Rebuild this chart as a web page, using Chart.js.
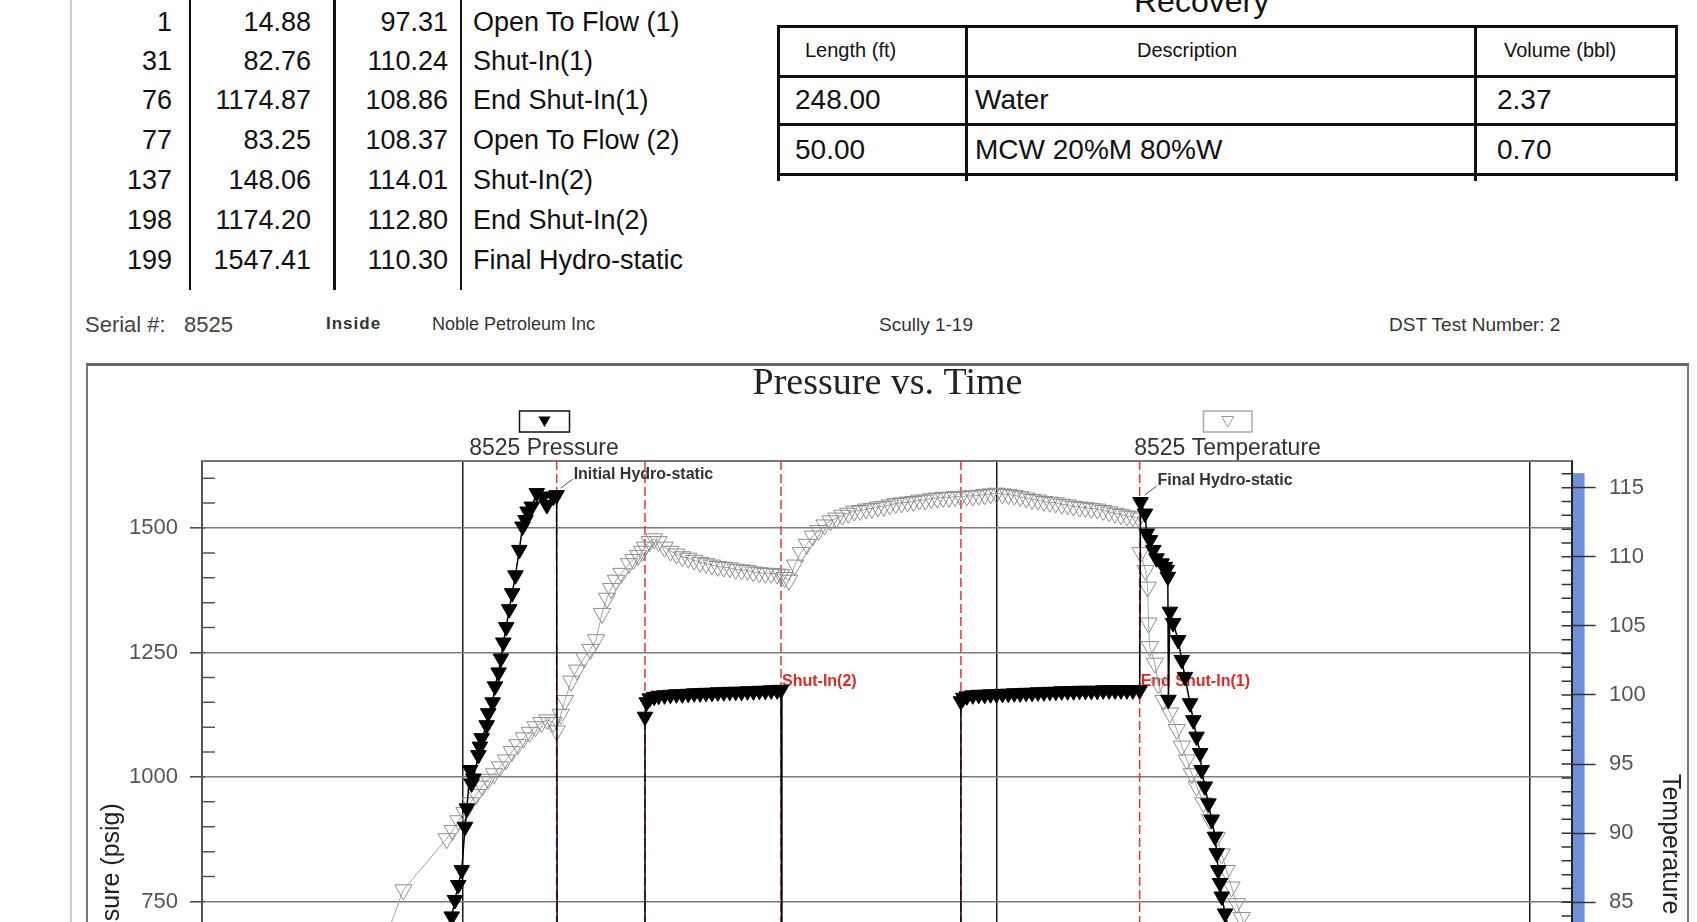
<!DOCTYPE html>
<html><head><meta charset="utf-8">
<script src="https://cdn.jsdelivr.net/npm/chart.js@4.4.1/dist/chart.umd.min.js"></script>
<style>
html,body{margin:0;padding:0;width:1697px;height:922px;overflow:hidden;background:#fff;}
body{position:relative;font-family:"Liberation Sans",Arial,sans-serif;color:#111;}
.t{position:absolute;white-space:nowrap;}
.ln{position:absolute;background:#111;}
</style></head><body>
<div style="position:absolute;left:70px;top:0;width:2px;height:922px;background:#c9c9df;"></div>
<div id="frame" style="position:absolute;left:86px;top:363px;width:1599px;height:700px;border:2px solid #777;border-top:3px solid #666;border-bottom:none;"></div>
<div id="wrap" style="position:absolute;left:88px;top:340px;width:1599px;height:1015px;"><canvas id="c"></canvas></div>
<script>
// ---------- summary table ----------
const tableTimes = ['1','31','76','77','137','198','199'];
const tablePressures = ['14.88','82.76','1174.87','83.25','148.06','1174.20','1547.41'];
const tableTemps = ['97.31','110.24','108.86','108.37','114.01','112.80','110.30'];
const tableEvents = ['Open To Flow (1)','Shut-In(1)','End Shut-In(1)','Open To Flow (2)','Shut-In(2)','End Shut-In(2)','Final Hydro-static'];

// ---------- recovery table ----------
const recoveryHeaders = ['Length  (ft)','Description','Volume (bbl)'];
const recoveryLengths = ['248.00','50.00'];
const recoveryDescriptions = ['Water','MCW 20%M 80%W'];
const recoveryVolumes = ['2.37','0.70'];

// ---------- chart data (time in minutes) ----------
const pressureTimes = [
  -37,-35.2,-33.8,-32.7,-31.6,-30.4,-29.3,-28.7,-27.6,-27.1,-26.5,-24.8,-24.3,-23.7,-22.0,-21.5,-20.0,-19.2,-18.0,-17.2,-16.4,-15.4,-14.4,-13.4,-12.3,-11.0,-9.9,-8.9,-8.2,-6.8,-5.1,-2.9,-1.7,0.5,1.6,
  1.9,10,20,31.2,
  31.4,32,33,34.5,36,38,40,42,44,46,48,50,52,54,56,58,60,62,64,66,68,70,72,74,76,77.3,
  77.6,95,115,137.7,
  138,138.8,140,142,144,146,148,150,152,154,156,158,160,162,164,166,168,170,172,174,176,178,180,182,184,186,188,190,192,194,196,198.3,
  198.6,200.1,200.7,201.8,202.9,204.0,205.7,206.8,207.4,207.8,208.0,208.5,209.6,211.3,212.5,213.6,215.3,216.4,217.5,218.7,219.2,220.3,221.5,222.6,223.7,224.3,224.8,225.4,226.0,227.1,228.5,230
];
const pressureValues = [
  620,680,720,753,783,813,900,937,1014,987,997,1044,1061,1078,1104,1128,1150,1182,1210,1238,1270,1301,1337,1369,1405,1456,1503,1516,1533,1543,1570,1563,1546,1563,1566,
  14.9,35,58,82.8,
  1121,1150,1158,1161,1163,1164,1165,1166,1166,1167,1168,1168,1169,1169,1170,1170,1171,1171,1171,1172,1172,1173,1173,1174,1174,1175,
  83.3,105,128,148.1,
  1152,1159,1162,1164,1165,1165,1166,1166,1167,1167,1168,1168,1169,1169,1170,1170,1171,1171,1172,1172,1172,1173,1173,1173,1173,1174,1174,1174,1174,1174,1174,1174.2,
  1552,1529,1489,1476,1456,1439,1429,1422,1416,1402,1155,1332,1309,1275,1235,1201,1148,1114,1081,1048,1014,981,947,914,880,847,813,787,760,726,690,650
];
const temperatureTimes = [
  -60,-50.1,-35.5,-33.5,-31.5,-29.5,-27.5,-25.5,-23.5,-21.5,-19.5,-17.5,-15.5,-13.5,-11.5,-9.5,-7.5,-5.5,-3.5,-1.5,0.5,1.6,
  3.0,4.4,6.5,8.5,10.9,13,14.9,16.9,18.6,20,21.6,23.5,26,27.5,29.1,30.5,
  31.4,33,34.5,36,38,40,42,44,46,48,50,52,54,56,58,60,62,64,66,68,70,72,74,76,77.3,
  78.5,80,82,84,86,88,90,92,94,96,98,100,102,104,106,108,110,112,114,116,118,120,122,124,126,128,130,132,134,136,
  138,140,142,144,146,148,150,152,154,156,158,160,162,164,166,168,170,172,174,176,178,180,182,184,186,188,190,192,194,196,198,
  198.6,200.3,201.0,201.3,201.7,203.4,204.6,206.3,208.5,210.8,212.5,214.2,215.9,217.5,219.8,222,224.3,226,227.6,229.3,231,232.7,235
];
const temperatureValues = [
  80.1,85.9,89.6,90.2,90.9,91.5,92.2,92.8,93.4,93.9,94.3,94.8,95.3,95.9,96.4,96.9,97.3,97.7,98.0,98.2,98.0,97.4,
  98.6,99.6,101.0,101.8,102.7,103.3,104.0,105.9,107.0,107.7,108.3,108.8,109.5,109.8,110.1,110.4,
  110.7,111.1,111.3,111.1,110.7,110.4,110.2,110.0,109.9,109.75,109.6,109.5,109.4,109.3,109.25,109.2,109.1,109.05,109.0,108.9,108.85,108.8,108.8,108.75,108.7,
  108.5,108.3,109.4,110.3,110.9,111.5,111.9,112.3,112.6,112.8,113.0,113.15,113.3,113.35,113.45,113.5,113.6,113.65,113.75,113.85,113.9,113.95,114.0,114.1,114.1,114.2,114.25,114.3,114.3,114.35,
  114.35,114.4,114.4,114.45,114.5,114.55,114.6,114.55,114.5,114.45,114.35,114.25,114.15,114.1,114.0,113.95,113.9,113.8,113.75,113.65,113.6,113.55,113.5,113.45,113.35,113.25,113.15,113.05,112.95,112.9,112.8,
  110.3,109.0,107.8,105.2,103.5,102.3,100.8,99.6,98.7,97.5,96.3,95.3,94.3,93.4,92.2,91.0,89.7,88.5,87.3,86.1,84.9,83.9,82.3
];
const pressureTicks = [0,250,500,750,1000,1250,1500];
const temperatureTicks = [60,65,70,75,80,85,90,95,100,105,110,115];
const timeGridTicks = [-30,150,330];
const eventTimes = [1.6,31.4,77.3,138,198.3];
const eventLabels = ['','','Shut-In(2)','','End Shut-In(1)'];
const eventLabelPressure = 1191;
const annotationTimes = [1.6,198.6];
const annotationPressures = [1566,1552];
const annotationTexts = ['Initial Hydro-static','Final Hydro-static'];
const temperatureBarTop = 116.05;

// ---------- HTML text ----------
function addText(txt, opt){
  const d = document.createElement('div');
  d.className = 't';
  d.textContent = txt;
  const lh = opt.lh || Math.round(opt.size*1.2);
  d.style.fontSize = opt.size + 'px';
  d.style.lineHeight = lh + 'px';
  d.style.top = (opt.cy - lh/2) + 'px';
  if (opt.right !== undefined) d.style.right = (1697 - opt.right) + 'px';
  else d.style.left = opt.left + 'px';
  if (opt.weight) d.style.fontWeight = opt.weight;
  if (opt.color) d.style.color = opt.color;
  if (opt.ls) d.style.letterSpacing = opt.ls;
  if (opt.family) d.style.fontFamily = opt.family;
  document.body.appendChild(d);
  return d;
}
function addLine(x, y, w, h){
  const d = document.createElement('div');
  d.className = 'ln';
  d.style.left = x + 'px'; d.style.top = y + 'px';
  d.style.width = w + 'px'; d.style.height = h + 'px';
  document.body.appendChild(d);
}
const rowCenters = [21.5, 61, 100, 140, 180, 220, 260];
tableTimes.forEach((v,i)=>{
  addText(v, {right:172, cy:rowCenters[i], size:27, lh:32});
  addText(tablePressures[i], {right:311, cy:rowCenters[i], size:27, lh:32});
  addText(tableTemps[i], {right:448, cy:rowCenters[i], size:27, lh:32});
  addText(tableEvents[i], {left:473, cy:rowCenters[i], size:27, lh:32});
});
addLine(188.5, 0, 2.5, 290);
addLine(333, 0, 2.5, 290);
addLine(459.5, 0, 2.5, 290);

// recovery
addText('Recovery', {left:1134, cy:1, size:32, lh:38});
[26, 76, 124, 174].forEach(y=>addLine(777, y-1.5, 901, 3));
[778, 966, 1475.5, 1676.5].forEach(x=>addLine(x-1.5, 25, 3, 156));
addText(recoveryHeaders[0], {left:805, cy:50, size:20});
addText(recoveryHeaders[1], {left:1137, cy:50, size:20});
addText(recoveryHeaders[2], {left:1504, cy:50, size:20});
const recRows = [100, 150];
recoveryLengths.forEach((v,i)=>{
  addText(v, {left:795, cy:recRows[i], size:28, lh:32});
  addText(recoveryDescriptions[i], {left:975, cy:recRows[i], size:28, lh:32});
  addText(recoveryVolumes[i], {left:1497, cy:recRows[i], size:28, lh:32});
});

// header info line
addText('Serial #:', {left:85, cy:325, size:22, color:'#444'});
addText('8525', {left:184, cy:325, size:22, color:'#444'});
addText('Inside', {left:326, cy:324, size:17, weight:'bold', color:'#333', ls:'1px'});
addText('Noble Petroleum Inc', {left:432, cy:324, size:18, color:'#333'});
addText('Scully 1-19', {left:879, cy:324, size:19, color:'#333'});
addText('DST Test Number: 2', {left:1389, cy:324, size:19, color:'#333'});

// ---------- chart ----------
const SANS = '"Liberation Sans", Arial, sans-serif';
function downTri(ctx, cx, cy, r){
  ctx.beginPath();
  ctx.moveTo(cx - r*0.866, cy - r*0.5);
  ctx.lineTo(cx + r*0.866, cy - r*0.5);
  ctx.lineTo(cx, cy + r);
  ctx.closePath();
}
const decor = {
  id: 'decor',
  beforeDraw(chart){
    const {ctx, chartArea:a, scales:{yT}} = chart;
    const top = yT.getPixelForValue(temperatureBarTop);
    ctx.save();
    ctx.fillStyle = '#7090de';
    ctx.fillRect(a.right, top, 13, a.bottom - top);
    ctx.restore();
  },
  beforeDatasetsDraw(chart){
    const {ctx, chartArea:a, scales:{x, yP, yT}} = chart;
    ctx.save();
    ctx.strokeStyle = '#777'; ctx.lineWidth = 2;
    ctx.beginPath(); ctx.moveTo(a.left, a.top); ctx.lineTo(a.right, a.top); ctx.stroke();
    ctx.strokeStyle = '#555'; ctx.lineWidth = 1.5;
    ctx.beginPath();
    for (let v = -50; v <= 1600; v += 50){
      const y = yP.getPixelForValue(v);
      const len = (v % 250 === 0) ? 3 : 13;
      ctx.moveTo(a.left, y); ctx.lineTo(a.left + len, y);
    }
    ctx.stroke();
    ctx.strokeStyle = '#333';
    ctx.beginPath();
    for (let v = 56; v <= 116; v++){
      const y = yT.getPixelForValue(v);
      ctx.moveTo(a.right - 10, y); ctx.lineTo(a.right, y);
    }
    ctx.stroke();
    ctx.strokeStyle = '#e23636'; ctx.lineWidth = 1.5; ctx.setLineDash([9,4]);
    eventTimes.forEach(t=>{
      const px = x.getPixelForValue(t);
      ctx.beginPath(); ctx.moveTo(px, a.top); ctx.lineTo(px, a.bottom); ctx.stroke();
    });
    ctx.setLineDash([]);
    ctx.fillStyle = '#e02a2a'; ctx.font = 'bold 16px ' + SANS;
    ctx.textBaseline = 'middle'; ctx.textAlign = 'left';
    eventLabels.forEach((lab,i)=>{
      if (!lab) return;
      ctx.fillText(lab, x.getPixelForValue(eventTimes[i]) + 1, yP.getPixelForValue(eventLabelPressure));
    });
    ctx.restore();
  },
  afterDatasetsDraw(chart){
    const {ctx, scales:{x, yP}} = chart;
    ctx.save();
    ctx.strokeStyle = '#555'; ctx.lineWidth = 1;
    ctx.fillStyle = '#333'; ctx.font = 'bold 16px ' + SANS;
    ctx.textBaseline = 'middle'; ctx.textAlign = 'left';
    annotationTimes.forEach((t,i)=>{
      const px = x.getPixelForValue(t), py = yP.getPixelForValue(annotationPressures[i]);
      ctx.beginPath(); ctx.moveTo(px + 4, py - 7); ctx.lineTo(px + 16, py - 16); ctx.stroke();
      ctx.fillText(annotationTexts[i], px + 17, py - 21);
    });
    ctx.restore();
  },
  afterDraw(chart){
    const ctx = chart.ctx;
    const ds = chart.data.datasets;
    ctx.save();
    ctx.lineWidth = 1.5; ctx.strokeStyle = '#111';
    ctx.strokeRect(431.5, 71, 50, 21);
    downTri(ctx, 456.5, 80, 7); ctx.fillStyle = '#000'; ctx.fill();
    ctx.strokeStyle = '#aaa'; ctx.lineWidth = 1.5;
    ctx.strokeRect(1115.5, 71, 48.5, 21);
    downTri(ctx, 1139.75, 80, 7); ctx.strokeStyle = '#999'; ctx.lineWidth = 1; ctx.stroke();
    ctx.fillStyle = '#333'; ctx.font = '23px ' + SANS;
    ctx.textAlign = 'center'; ctx.textBaseline = 'middle';
    ctx.fillText(ds[0].label, 456, 109);
    ctx.fillText(ds[1].label, 1139.5, 109);
    ctx.restore();
  }
};

const pData = pressureTimes.map((t,i)=>({x:t, y:pressureValues[i]}));
const tData = temperatureTimes.map((t,i)=>({x:t, y:temperatureValues[i]}));

new Chart(document.getElementById('c'), {
  type: 'line',
  data: { datasets: [
    { label:'8525 Pressure', data:pData, yAxisID:'yP', borderColor:'#000', borderWidth:1.5,
      pointStyle:'triangle', rotation:180, pointRadius:9, pointBackgroundColor:'#000',
      pointBorderColor:'#000', pointBorderWidth:1, tension:0 },
    { label:'8525 Temperature', data:tData, yAxisID:'yT', borderColor:'#a3a3a3', borderWidth:1,
      pointStyle:'triangle', rotation:180, pointRadius:10, pointBackgroundColor:'rgba(0,0,0,0)',
      pointBorderColor:'#8e8e8e', pointBorderWidth:1, tension:0 }
  ]},
  options: {
    responsive:true, maintainAspectRatio:false, animation:false, events:[],
    layout:{padding:0},
    plugins:{
      legend:{display:false}, tooltip:{enabled:false},
      title:{display:true, text:'Pressure vs. Time', color:'#222',
        font:{family:'"Liberation Serif", "Times New Roman", serif', size:38, weight:'normal', lineHeight:1.2},
        padding:{top:21.5, bottom:53.9}}
    },
    scales:{
      x:{ type:'linear', min:-118.05, max:344.03,
        afterBuildTicks:s=>{ s.ticks = timeGridTicks.map(v=>({value:v})); },
        afterFit:s=>{ s.height = 40.2; },
        ticks:{display:false},
        grid:{color:'#1a1a1a', lineWidth:1.5, drawTicks:false},
        border:{display:false} },
      yP:{ type:'linear', position:'left', min:-80, max:1634.5,
        afterBuildTicks:s=>{ s.ticks = pressureTicks.map(v=>({value:v})); },
        afterFit:s=>{ s.width = 114; },
        ticks:{callback:v=>String(v), color:'#555', font:{family:SANS, size:22}, padding:12},
        grid:{color:'#7a7a7a', lineWidth:1.6, tickLength:12, tickColor:'#444', tickWidth:1.5},
        border:{color:'#555', width:2},
        title:{display:true, text:'Pressure (psig)', color:'#222', font:{family:SANS, size:25}, padding:{top:9, bottom:0}} },
      yT:{ type:'linear', position:'right', min:55.15, max:116.93,
        afterBuildTicks:s=>{ s.ticks = temperatureTicks.map(v=>({value:v})); },
        afterFit:s=>{ s.width = 115.4; },
        ticks:{callback:v=>String(v), color:'#555', font:{family:SANS, size:22}, padding:13.4},
        grid:{drawOnChartArea:false, tickLength:24, tickColor:'#333', tickWidth:1.5},
        border:{color:'#222', width:2},
        title:{display:true, text:'Temperature (deg F)', color:'#222', font:{family:SANS, size:25}, padding:{top:2.4, bottom:0}} }
    }
  },
  plugins:[decor]
});
</script>
</body></html>
